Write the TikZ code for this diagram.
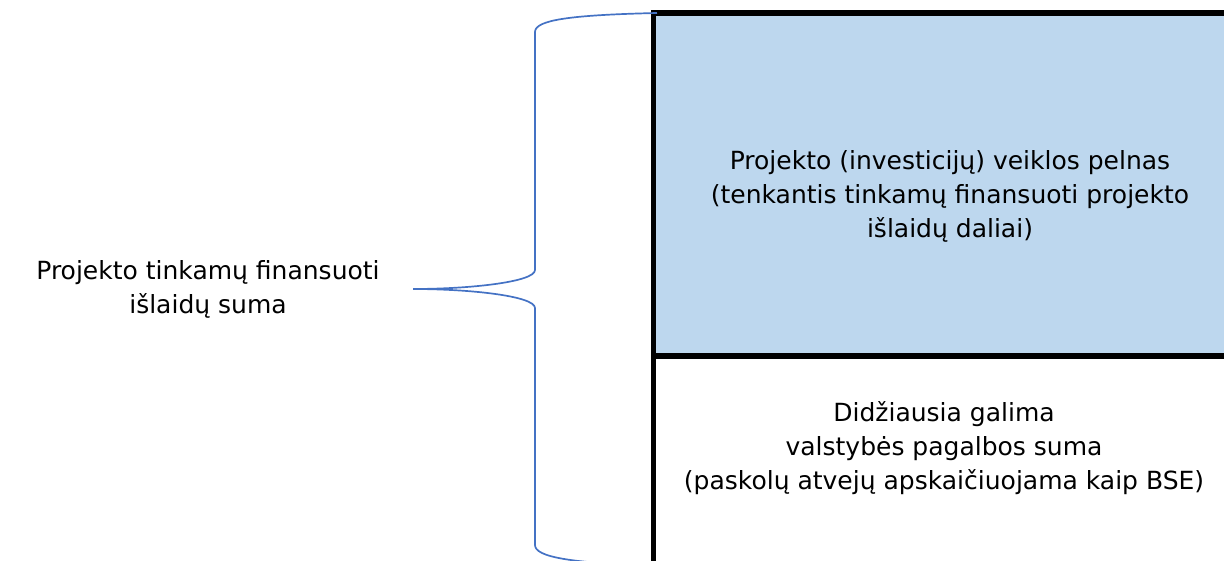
\documentclass[tikz,border=0pt]{standalone}
\usepackage{fontspec}
\setmainfont{DejaVu Sans}
\definecolor{boxblue}{HTML}{BDD7EE}
\definecolor{bracecol}{HTML}{4472C4}
\begin{document}
\begin{tikzpicture}[x=1pt,y=-1pt,
  label/.style={align=center,font=\fontsize{25}{34}\selectfont,text=black,inner sep=0pt},
  thick line/.style={line width=5.5pt,draw=black}]
\useasboundingbox (0,0) rectangle (1224,561);
\begin{scope}
\clip (0,0) rectangle (1224,561);
\fill[boxblue] (653,13) rectangle (1230,356);
\draw[thick line] (650.75,13) -- (1230,13);
\draw[thick line] (653.5,13) -- (653.5,570);
\draw[thick line] (653.5,356) -- (1230,356);
\draw[bracecol,line width=1.7pt]
  (657,13) .. controls (570,15) and (535,20) .. (535,32)
  -- (535,270) .. controls (535,282) and (470,289) .. (413,289)
  .. controls (470,289) and (535,296) .. (535,308)
  -- (535,545) .. controls (535,557) and (570,563) .. (657,566);
\end{scope}
\node[label] (left) at (208,289) {Projekto tinkamų finansuoti\\išlaidų suma};
\node[label] (top) at (950,196) {Projekto (investicijų) veiklos pelnas\\(tenkantis tinkamų finansuoti projekto\\išlaidų daliai)};
\node[label] (bottom) at (944,448) {Didžiausia galima\\valstybės pagalbos suma\\(paskolų atvejų apskaičiuojama kaip BSE)};
\end{tikzpicture}
\end{document}
